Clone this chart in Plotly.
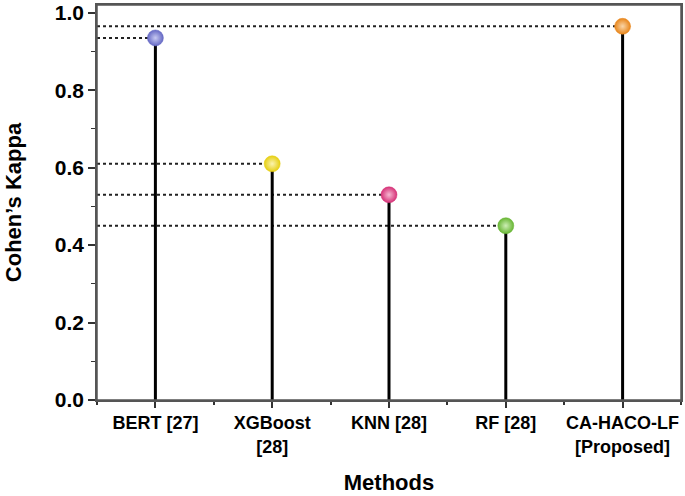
import plotly.graph_objects as go

methods = ["BERT [27]", "XGBoost<br>[28]", "KNN [28]", "RF [28]", "CA-HACO-LF<br>[Proposed]"]
kappa = [0.935, 0.61, 0.53, 0.45, 0.965]
colors = ["#6468c4", "#e6cf12", "#d63278", "#68b634", "#e88519"]
highlights = ["#c8caf2", "#fbf3b0", "#f6b8d2", "#cdeeb5", "#f9d5a8"]
y_ticks = [0.0, 0.2, 0.4, 0.6, 0.8, 1.0]

x_pos = list(range(len(methods)))
x_left = -0.5

fig = go.Figure()

# dotted guide lines from the y axis to each marker
for xi, v in zip(x_pos, kappa):
    fig.add_trace(go.Scatter(
        x=[x_left, xi], y=[v, v], mode="lines",
        line=dict(color="#222222", width=2, dash="dot"),
        hoverinfo="skip", showlegend=False))

# stems
for xi, v in zip(x_pos, kappa):
    fig.add_trace(go.Scatter(
        x=[xi, xi], y=[0, v], mode="lines",
        line=dict(color="black", width=3),
        hoverinfo="skip", showlegend=False))

# spherical markers (radial gradient: gradient.color is the centre colour)
fig.add_trace(go.Scatter(
    x=x_pos, y=kappa, mode="markers",
    marker=dict(size=16, color=colors,
                gradient=dict(type="radial", color=highlights),
                line=dict(width=0.5, color=colors)),
    showlegend=False))

font_family = "Liberation Sans, Arial, sans-serif"

fig.update_layout(
    width=685, height=496,
    margin=dict(l=97, r=4, t=5, b=96),
    paper_bgcolor="white", plot_bgcolor="white",
    font=dict(family=font_family, color="black"),
    shapes=[dict(type="rect", xref="paper", yref="paper", x0=0, x1=1, y0=0, y1=1,
                 line=dict(color="#555555", width=1.5), layer="above")],
)

fig.update_xaxes(
    range=[-0.5, 4.5], automargin=False,
    tickmode="array", tickvals=x_pos,
    ticktext=["<b>" + m.replace("<br>", "</b><br><b>") + "</b>" for m in methods],
    tickfont=dict(size=18, family=font_family, color="black"),
    ticks="outside", ticklen=6, tickwidth=2, tickcolor="#333333",
    minor=dict(dtick=0.5, tick0=-0.5, ticks="outside", ticklen=3, tickwidth=1.5, tickcolor="#333333"),
    showline=True, linecolor="#555555", linewidth=1.5, mirror=True,
    showgrid=False, zeroline=False,
    title=dict(text="<b>Methods</b>", font=dict(size=22), standoff=19),
)

fig.update_yaxes(
    range=[0, 1.02], automargin=False,
    tickmode="array", tickvals=y_ticks,
    ticktext=["<b>%.1f</b>" % t for t in y_ticks],
    tickfont=dict(size=21, family=font_family, color="black"),
    ticks="outside", ticklen=7, tickwidth=1.5, tickcolor="#333333",
    minor=dict(dtick=0.1, tick0=0, ticks="outside", ticklen=4, tickwidth=1.2, tickcolor="#333333"),
    showline=True, linecolor="#555555", linewidth=1.5, mirror=True,
    showgrid=False, zeroline=False,
    title=dict(text="<b>Cohen\u2019s Kappa</b>", font=dict(size=22), standoff=27),
)

fig.write_html("out.html", config={"displayModeBar": False},
               post_script="document.body.style.margin='0px';document.body.style.overflow='hidden';")
